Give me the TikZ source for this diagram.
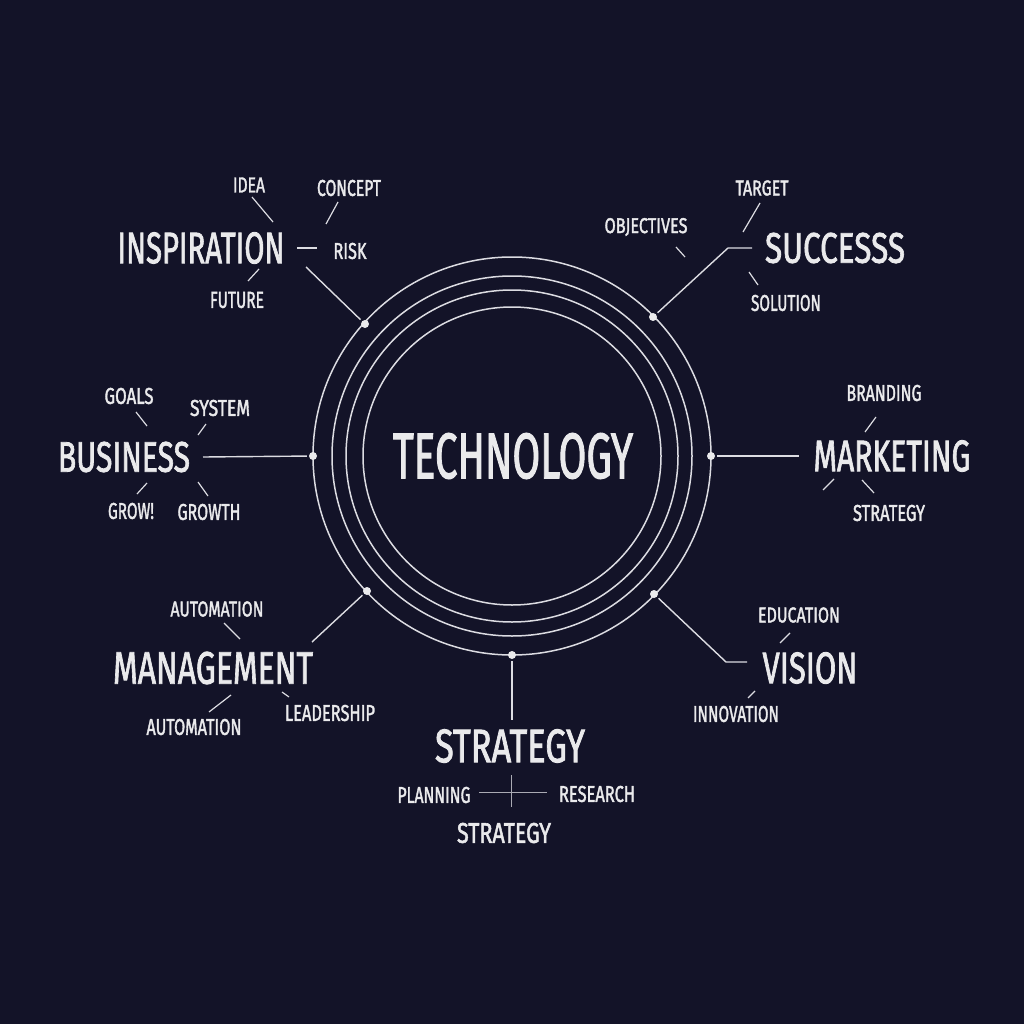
\documentclass[tikz,border=0pt]{standalone}
\usepackage{fontspec}
\setmainfont{Fira Sans}
\newfontface\lblf{Fira Sans}[FakeBold=2]
\usepackage{graphicx}
\definecolor{bg}{RGB}{19,19,40}
\definecolor{fg}{RGB}{234,234,236}
\definecolor{ln}{RGB}{220,220,226}
\definecolor{lg}{RGB}{170,170,180}
\newcommand{\lbl}[3]{\resizebox{#1pt}{#2pt}{\fontsize{40}{40}\lblf #3}}
\newcommand{\tk}[3]{\coordinate (#1a) at (#2); \coordinate (#1b) at (#3); \draw[tick] (#1a) -- (#1b);}
\tikzset{
  lab/.style={text=fg, inner sep=0pt, anchor=center},
  ring/.style={draw=ln, line width=1.5pt},
  conn/.style={draw=ln, line width=1.4pt},
  tick/.style={draw=ln, line width=1.2pt},
  thin/.style={draw=lg, line width=1pt},
  dotn/.style={circle, fill=fg, inner sep=0pt, minimum size=8pt},
}
\begin{document}
\begin{tikzpicture}[x=1pt,y=-1pt]
\path[fill=bg] (0,0) rectangle (1024,1024);
\useasboundingbox (0,0) rectangle (1024,1024);

% rings
\coordinate (c) at (512,456);
\draw[ring] (c) circle[radius=199];
\draw[ring] (c) circle[radius=180];
\draw[ring] (c) circle[radius=166];
\draw[ring] (c) circle[radius=149];

% dots on outer ring
\node[dotn] (dUL) at (365,324) {};
\node[dotn] (dUR) at (653,317) {};
\node[dotn] (dL)  at (313,456) {};
\node[dotn] (dR)  at (711,456) {};
\node[dotn] (dLL) at (367,591) {};
\node[dotn] (dLR) at (654,594) {};
\node[dotn] (dB)  at (512,655) {};

% center
\node[lab] (tech) at (513,456) {\lbl{240}{45}{TECHNOLOGY}};

% main labels
\node[lab] (insp) at (201,248) {\lbl{167}{31}{INSPIRATION}};
\node[lab] (succ) at (835,248) {\lbl{140}{30}{SUCCESSS}};
\node[lab] (busi) at (124,457) {\lbl{132}{30}{BUSINESS}};
\node[lab] (mark) at (892,456) {\lbl{157}{31}{MARKETING}};
\node[lab] (mana) at (213,668) {\lbl{200}{32}{MANAGEMENT}};
\node[lab] (visi) at (810,668) {\lbl{95}{31}{VISION}};
\node[lab] (stra) at (510,746) {\lbl{150}{33}{STRATEGY}};

% small labels
\node[lab] (idea) at (249,185) {\lbl{32}{15}{IDEA}};
\node[lab] (conc) at (349,188) {\lbl{64}{16}{CONCEPT}};
\node[lab] (risk) at (350,251) {\lbl{33}{16}{RISK}};
\node[lab] (futu) at (237,300) {\lbl{54}{16}{FUTURE}};
\node[lab] (targ) at (762,188) {\lbl{53}{15}{TARGET}};
\node[lab] (obje) at (646,227) {\lbl{83}{15}{OBJECTIVES}};
\node[lab] (solu) at (786,303) {\lbl{70}{16}{SOLUTION}};
\node[lab] (goal) at (129,396) {\lbl{49}{16}{GOALS}};
\node[lab] (syst) at (220,408) {\lbl{60}{16}{SYSTEM}};
\node[lab] (grow) at (131,511) {\lbl{46}{16}{GROW!}};
\node[lab] (grth) at (209,512) {\lbl{63}{16}{GROWTH}};
\node[lab] (bran) at (884,393) {\lbl{75}{16}{BRANDING}};
\node[lab] (mstr) at (889,513) {\lbl{72}{16}{STRATEGY}};
\node[lab] (aut1) at (217,609) {\lbl{93}{15}{AUTOMATION}};
\node[lab] (aut2) at (194,727) {\lbl{95}{16}{AUTOMATION}};
\node[lab] (lead) at (330,713) {\lbl{90}{16}{LEADERSHIP}};
\node[lab] (educ) at (799,615) {\lbl{82}{15}{EDUCATION}};
\node[lab] (inno) at (736,714) {\lbl{86}{16}{INNOVATION}};
\node[lab] (plan) at (434,795) {\lbl{73}{16}{PLANNING}};
\node[lab] (rese) at (597,794) {\lbl{76}{16}{RESEARCH}};
\node[lab] (sstr) at (504,833) {\lbl{94}{20}{STRATEGY}};

% main connectors
\coordinate (ci) at (306,267);
\draw[conn, shorten >=2pt] (ci) -- (dUL);
\coordinate (cs1) at (752,248);
\coordinate (cs2) at (728,248);
\draw[conn, shorten >=2pt] (cs1) -- (cs2) -- (dUR);
\coordinate (cb) at (203,457);
\draw[conn, shorten >=2pt] (cb) -- (dL);
\coordinate (cm) at (799,456);
\draw[conn, shorten <=2pt] (dR) -- (cm);
\coordinate (cg) at (312,642);
\draw[conn, shorten >=2pt] (cg) -- (dLL);
\coordinate (cv1) at (726,662);
\coordinate (cv2) at (747,662);
\draw[conn, shorten <=2pt] (dLR) -- (cv1) -- (cv2);
\coordinate (ct) at (512,720);
\draw[conn, shorten <=2pt] (dB) -- (ct);

% strategy cross
\coordinate (xh1) at (479,792);
\coordinate (xh2) at (547,792);
\coordinate (xv1) at (511,775);
\coordinate (xv2) at (511,807);
\draw[thin] (xh1) -- (xh2);
\draw[thin] (xv1) -- (xv2);

% ticks: inspiration
\tk{ti1}{252,197}{273,222}
\tk{ti2}{338,202}{326,224}
\tk{ti3}{297,248}{317,248}
\tk{ti4}{259,269}{248,281}
% success
\tk{ts1}{760,203}{743,232}
\tk{ts2}{676,247}{685,257}
\tk{ts3}{749,272}{758,285}
% business
\tk{tb1}{136,412}{147,426}
\tk{tb2}{206,424}{198,435}
\tk{tb3}{147,483}{137,494}
\tk{tb4}{198,482}{208,496}
% marketing
\tk{tm1}{876,417}{865,432}
\tk{tm2}{834,479}{823,490}
\tk{tm3}{862,480}{874,493}
% management
\tk{tg1}{224,623}{240,639}
\tk{tg2}{231,695}{209,712}
\tk{tg3}{282,692}{289,697}
% vision
\tk{tv1}{790,633}{780,643}
\tk{tv2}{755,691}{748,698}
\end{tikzpicture}
\end{document}
